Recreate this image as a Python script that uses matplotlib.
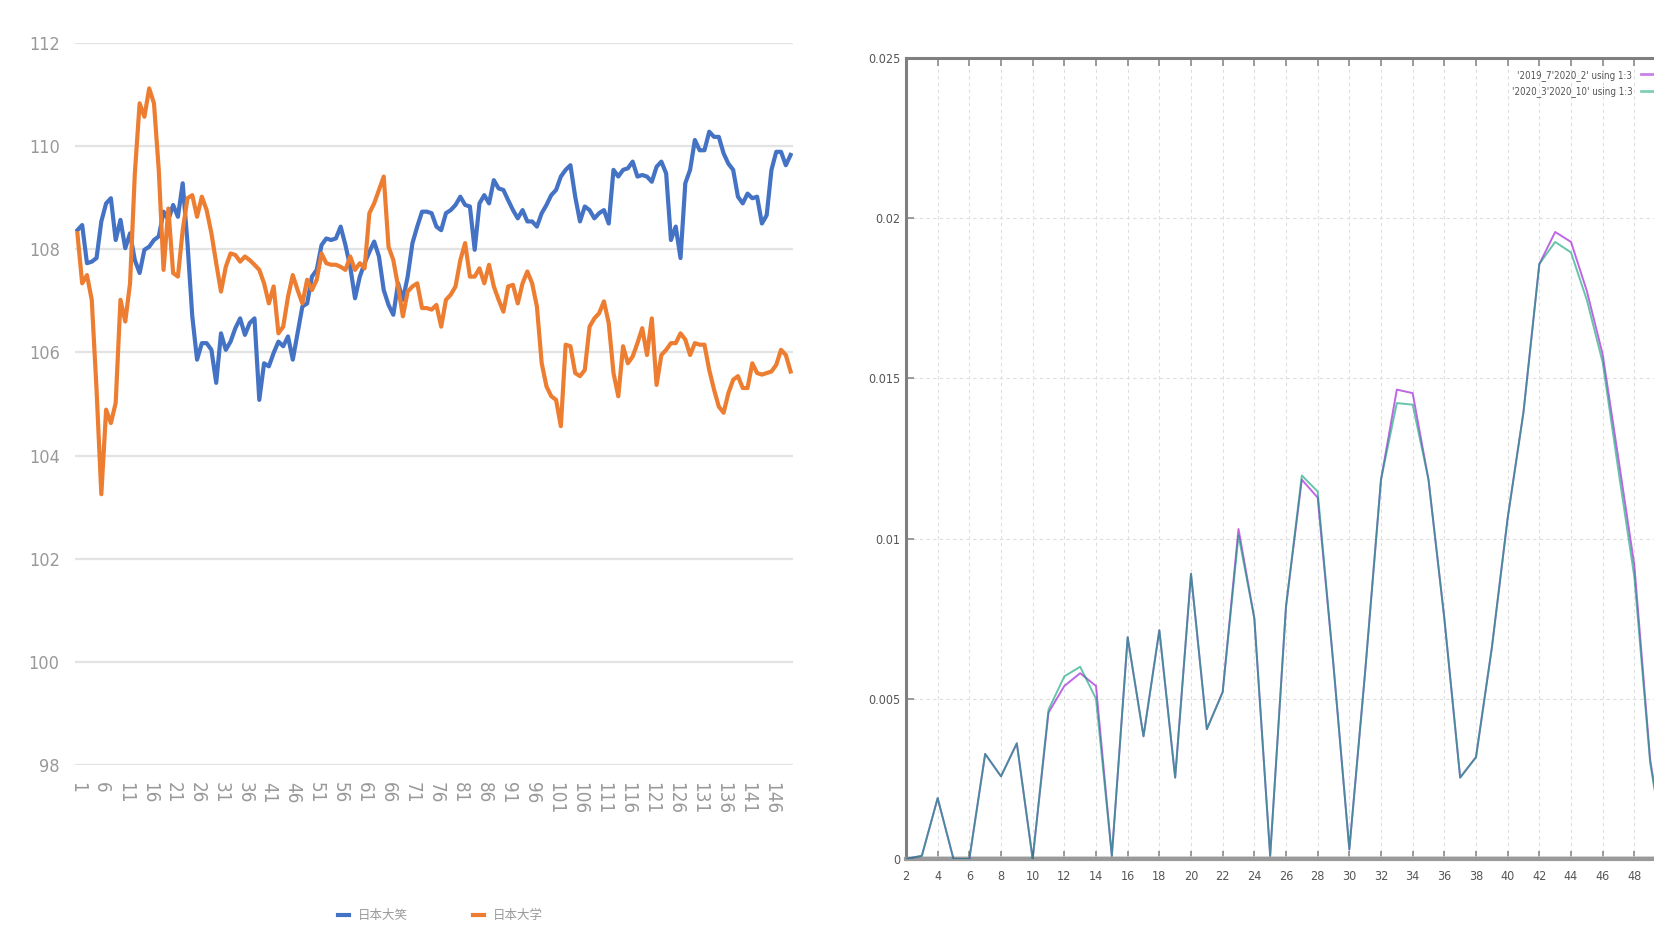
import matplotlib
matplotlib.use("Agg")
import matplotlib.pyplot as plt
import numpy as np

# ---------------- data: left chart (Excel-style line chart) ----------------
left_x = list(range(1, 151))
left_xticks = list(range(1, 151, 5))
left_yticks = [98, 100, 102, 104, 106, 108, 110, 112]
left_labels = ["日本大笑", "日本大学"]

blue = [108.37, 108.47, 107.73, 107.76, 107.83, 108.54, 108.89, 108.99, 108.18, 108.57,
        108.02, 108.31, 107.79, 107.54, 107.99, 108.05, 108.18, 108.25, 108.73, 108.57,
        108.86, 108.63, 109.28, 108.12, 106.70, 105.86, 106.18, 106.18, 106.05, 105.41,
        106.37, 106.05, 106.21, 106.47, 106.66, 106.34, 106.57, 106.66, 105.08, 105.79,
        105.73, 105.99, 106.21, 106.12, 106.31, 105.86, 106.37, 106.89, 106.95, 107.47,
        107.60, 108.08, 108.21, 108.18, 108.21, 108.44, 108.08, 107.66, 107.05, 107.47,
        107.73, 107.95, 108.15, 107.86, 107.21, 106.92, 106.73, 107.34, 107.02, 107.47,
        108.12, 108.44, 108.73, 108.73, 108.70, 108.44, 108.37, 108.70, 108.76, 108.86,
        109.02, 108.86, 108.83, 107.99, 108.89, 109.05, 108.89, 109.34, 109.18, 109.15,
        108.95, 108.76, 108.60, 108.76, 108.54, 108.54, 108.44, 108.70, 108.86, 109.05,
        109.15, 109.41, 109.54, 109.63, 109.02, 108.54, 108.83, 108.76, 108.60, 108.70,
        108.76, 108.50, 109.54, 109.41, 109.54, 109.57, 109.70, 109.41, 109.44, 109.41,
        109.31, 109.60, 109.70, 109.47, 108.18, 108.44, 107.83, 109.28, 109.54, 110.12,
        109.92, 109.92, 110.28, 110.18, 110.18, 109.86, 109.66, 109.54, 109.02, 108.89,
        109.08, 108.99, 109.02, 108.50, 108.66, 109.54, 109.89, 109.89, 109.63, 109.83]

orange = [108.31, 107.34, 107.50, 107.02, 105.28, 103.25, 104.89, 104.63, 105.02, 107.02,
          106.60, 107.34, 109.47, 110.83, 110.57, 111.12, 110.83, 109.54, 107.60, 108.79,
          107.54, 107.47, 108.37, 108.99, 109.05, 108.63, 109.02, 108.76, 108.31, 107.73,
          107.18, 107.66, 107.92, 107.89, 107.76, 107.86, 107.79, 107.70, 107.60, 107.34,
          106.95, 107.28, 106.37, 106.50, 107.08, 107.50, 107.21, 106.95, 107.41, 107.21,
          107.41, 107.92, 107.73, 107.70, 107.70, 107.66, 107.60, 107.86, 107.60, 107.73,
          107.63, 108.70, 108.89, 109.15, 109.41, 108.05, 107.79, 107.28, 106.70, 107.18,
          107.28, 107.34, 106.86, 106.86, 106.83, 106.92, 106.50, 107.02, 107.12, 107.28,
          107.79, 108.12, 107.47, 107.47, 107.63, 107.34, 107.70, 107.28, 107.02, 106.79,
          107.28, 107.31, 106.95, 107.34, 107.57, 107.34, 106.89, 105.79, 105.34, 105.15,
          105.08, 104.57, 106.15, 106.12, 105.60, 105.54, 105.66, 106.50, 106.66, 106.76,
          106.99, 106.57, 105.60, 105.15, 106.12, 105.79, 105.92, 106.18, 106.47, 105.95,
          106.66, 105.37, 105.95, 106.05, 106.18, 106.18, 106.37, 106.25, 105.95, 106.18,
          106.15, 106.15, 105.66, 105.28, 104.95, 104.83, 105.21, 105.47, 105.54, 105.31,
          105.31, 105.79, 105.60, 105.57, 105.60, 105.63, 105.76, 106.05, 105.95, 105.63]

# ---------------- data: right chart (gnuplot-style) ----------------
right_x = list(range(2, 51))
right_xticks = list(range(2, 49, 2))
right_yticks = [0, 0.005, 0.01, 0.015, 0.02, 0.025]
right_ytick_labels = ["0", "0.005", "0.01", "0.015", "0.02", "0.025"]
right_labels = ["'2019_7'2020_2' using 1:3", "'2020_3'2020_10' using 1:3"]

purple = [0.0, 0.0001, 0.0019, 0.0, 0.0, 0.00328, 0.00258, 0.00361, 0.0, 0.00457,
          0.0054, 0.0058, 0.0054, 0.0001, 0.00692, 0.00383, 0.00714, 0.00254, 0.0089, 0.00405,
          0.00521, 0.0103, 0.00751, 0.0001, 0.00788, 0.01184, 0.01128, 0.00604, 0.0003, 0.00585,
          0.01184, 0.01465, 0.01454, 0.01184, 0.00751, 0.00254, 0.00318, 0.00659, 0.01064, 0.01395,
          0.01857, 0.01957, 0.01926, 0.01773, 0.01575, 0.01248, 0.00917, 0.0031, 0.0]
teal = [0.0, 0.0001, 0.0019, 0.0, 0.0, 0.00328, 0.00258, 0.00361, 0.0, 0.00466,
        0.0057, 0.0060, 0.0050, 0.0001, 0.00692, 0.00383, 0.00714, 0.00254, 0.0089, 0.00405,
        0.00521, 0.0101, 0.00751, 0.0001, 0.00788, 0.01197, 0.01147, 0.00604, 0.0003, 0.00585,
        0.01184, 0.01423, 0.01418, 0.01184, 0.00751, 0.00254, 0.00318, 0.00659, 0.01064, 0.01395,
        0.01857, 0.01926, 0.01893, 0.01745, 0.01550, 0.01211, 0.0088, 0.0030, 0.0]

# ---------------- fonts ----------------
plt.rcParams['font.family'] = ['DejaVu Sans', 'Noto Sans CJK SC']

W, H = 1654, 925
fig = plt.figure(figsize=(W / 100, H / 100), dpi=100)

# ---------------- left chart ----------------
axL = fig.add_axes([75 / W, (H - 765) / H, 718 / W, (765 - 43) / H])
axL.plot(left_x, blue, color='#4472c4', lw=3.0, solid_joinstyle='round', label=left_labels[0], zorder=3)
axL.plot(left_x, orange, color='#ed7d31', lw=3.0, solid_joinstyle='round', label=left_labels[1], zorder=4)
axL.set_xlim(0.5, 150.5)
axL.set_ylim(98, 112)
axL.set_yticks(left_yticks)
axL.set_xticks(left_xticks)
axL.set_xticklabels([str(v) for v in left_xticks], rotation=-90, fontsize=13.5,
                    color='#999999', fontstretch='condensed')
for lab in axL.get_yticklabels():
    lab.set_fontstretch('condensed')
axL.tick_params(axis='y', labelsize=13, colors='#999999', length=0, pad=11)
axL.tick_params(axis='x', length=0, pad=12)
for lab in axL.get_xticklabels():
    lab.set_va('top')
axL.grid(axis='y', color='#e3e3e3', lw=1.6)
axL.set_axisbelow(True)
for s in axL.spines.values():
    s.set_visible(False)
leg = fig.legend(*axL.get_legend_handles_labels(), loc='center', ncol=2,
                 bbox_to_anchor=(440 / W, 9 / H), frameon=False,
                 handlelength=0.9, columnspacing=5.2, handletextpad=0.7,
                 prop={'family': ['Noto Sans CJK SC', 'DejaVu Sans'], 'size': 9})
for t in leg.get_texts():
    t.set_color('#999999')

# ---------------- right chart ----------------
axR = fig.add_axes([906 / W, (H - 859) / H, 760 / W, (859 - 58) / H])
axR.axhline(0, color='#cfcfcf', lw=4, zorder=1.5)
axR.plot(right_x, purple, color='#9400d3', lw=1.4, alpha=0.6, label=right_labels[0], zorder=3)
axR.plot(right_x, teal, color='#009e73', lw=1.4, alpha=0.6, label=right_labels[1], zorder=3)
axR.set_xlim(2, 50)
axR.set_ylim(0, 0.025)
axR.set_xticks(right_xticks)
axR.set_yticks(right_yticks)
axR.set_yticklabels(right_ytick_labels)
axR.tick_params(axis='both', direction='in', colors='#8a8a8a', labelcolor='#555555',
                labelsize=9, length=6, width=1.2)
axR.tick_params(axis='x', top=True, pad=8)
axR.tick_params(axis='y', pad=4)
for lab in axR.get_xticklabels() + axR.get_yticklabels():
    lab.set_fontstretch('condensed')
axR.grid(True, color='#dedede', lw=0.8, ls=(0, (3, 3)))
axR.set_axisbelow(True)
for side in ['left', 'top', 'bottom', 'right']:
    axR.spines[side].set_color('#7f7f7f')
    axR.spines[side].set_linewidth(2.2)
axR.spines['bottom'].set_color('#9a9a9a')
axR.spines['bottom'].set_linewidth(3.0)
legR = axR.legend(loc='upper right', bbox_to_anchor=(1680 / W, (H - 66) / H),
                  bbox_transform=fig.transFigure, frameon=False,
                  prop={'size': 7, 'stretch': 'condensed'},
                  markerfirst=False, handlelength=3.6, handletextpad=0.9,
                  labelspacing=0.55, borderaxespad=0)
for t in legR.get_texts():
    t.set_color('#555555')
for h in legR.get_lines():
    h.set_alpha(0.5)
    h.set_linewidth(2.0)

fig.savefig("out.png", dpi=100)
